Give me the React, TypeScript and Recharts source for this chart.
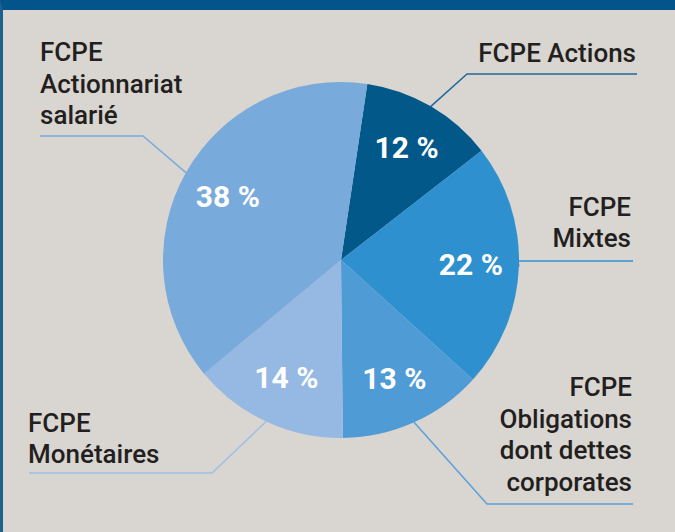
import React from 'react';
import { Cell, Pie, PieChart } from 'recharts';

// Répartition des encours par type de FCPE (en %)
const categories = [
  'FCPE Actions',
  'FCPE Mixtes',
  'FCPE Obligations dont dettes corporates',
  'FCPE Monétaires',
  'FCPE Actionnariat salarié',
];
const shares = [12, 22, 13, 14, 38];
const labelRows = [
  ['FCPE Actions'],
  ['FCPE', 'Mixtes'],
  ['FCPE', 'Obligations', 'dont dettes', 'corporates'],
  ['FCPE', 'Monétaires'],
  ['FCPE', 'Actionnariat', 'salarié'],
];

const colors = ['#03588a', '#2e90cf', '#4f9bd6', '#95b9e2', '#78aadb'];
const lineColors = ['#1f6a9a', '#2e90cf', '#5aa0da', '#9cc0e5', '#7aabdc'];

// chart sits inside a 3px left / 10px top border
const OX = 3;
const OY = 10;

// callout layout, page coordinates
const callouts = [
  { elbow: [467, 74], endX: 637, anchor: 'end', textX: 636, baselines: [62] },
  { elbow: [518, 261], endX: 633, anchor: 'end', textX: 631, baselines: [216, 247] },
  { elbow: [487, 504], endX: 633, anchor: 'end', textX: 632, baselines: [396, 428, 459, 491] },
  { elbow: [212, 473], endX: 29, anchor: 'start', textX: 28, baselines: [432, 463] },
  { elbow: [143, 136], endX: 40, anchor: 'start', textX: 40, baselines: [61, 93, 124] },
];

const chartData = categories.map((name, i) => ({ name, value: shares[i] }));

const RADIAN = Math.PI / 180;
const FONT = 'Roboto, "DejaVu Sans", sans-serif';

const renderLabel = (props: any) => {
  const { cx, cy, midAngle, outerRadius, index, value } = props;
  const cos = Math.cos(-midAngle * RADIAN);
  const sin = Math.sin(-midAngle * RADIAN);
  const r = outerRadius * 0.73;
  const lx = cx + r * cos;
  const ly = cy + r * sin;
  const sx = cx + outerRadius * cos;
  const sy = cy + outerRadius * sin;
  const c = callouts[index];
  const pts: number[][] = [[sx, sy]];
  let lineY = sy;
  if (c.elbow) {
    pts.push([c.elbow[0] - OX, c.elbow[1] - OY]);
    lineY = c.elbow[1] - OY;
  }
  pts.push([c.endX - OX, lineY]);
  return (
    <g key={`lbl-${index}`}>
      <text
        x={lx}
        y={ly}
        fill="#ffffff"
        textAnchor="middle"
        dominantBaseline="central"
        fontFamily={FONT}
        fontWeight={700}
        fontSize={30}
      >
        {`${value} %`}
      </text>
      <polyline
        points={pts.map((p) => p.join(',')).join(' ')}
        fill="none"
        stroke={lineColors[index]}
        strokeWidth={1.5}
      />
      {labelRows[index].map((row, j) => (
        <text
          key={j}
          x={c.textX - OX}
          y={c.baselines[j] - OY}
          textAnchor={c.anchor as any}
          fill="#231f20"
          fontFamily={FONT}
          fontWeight={500}
          fontSize={26}
        >
          {row}
        </text>
      ))}
    </g>
  );
};

export default function App() {
  return (
    <div
      style={{
        position: 'absolute',
        left: 0,
        top: 0,
        width: 672,
        height: 522,
        background: '#d9d5d0',
        borderTop: '10px solid #03548a',
        borderLeft: '3px solid #1d5f8f',
      }}
    >
      <PieChart width={672} height={522} margin={{ top: 0, right: 0, bottom: 0, left: 0 }}>
        <Pie
          data={chartData}
          dataKey="value"
          nameKey="name"
          cx={341 - OX}
          cy={260 - OY}
          outerRadius={178}
          startAngle={81.5}
          endAngle={-278.5}
          stroke="none"
          label={renderLabel}
          labelLine={false}
          isAnimationActive={false}
        >
          {chartData.map((d, i) => (
            <Cell key={d.name} fill={colors[i]} />
          ))}
        </Pie>
      </PieChart>
    </div>
  );
}
